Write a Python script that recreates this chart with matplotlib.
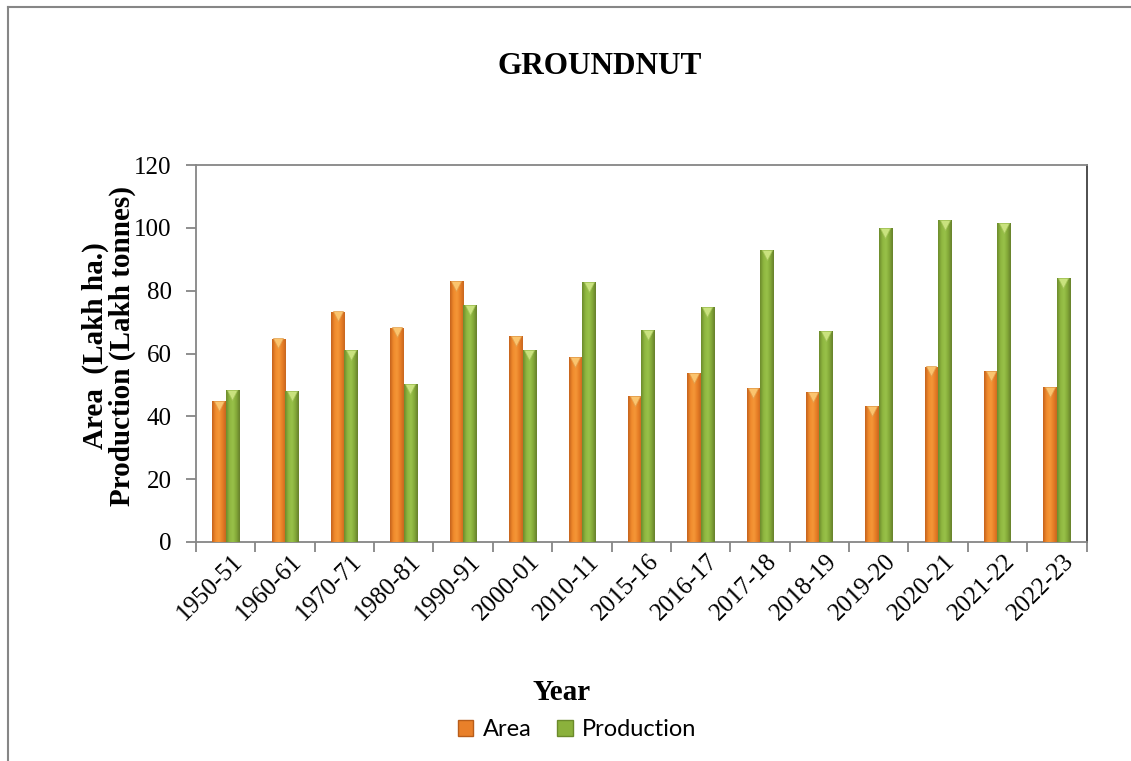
import numpy as np
import matplotlib
matplotlib.use("Agg")
import matplotlib.pyplot as plt
from matplotlib.patches import Patch
from matplotlib.lines import Line2D
from matplotlib.colors import LinearSegmentedColormap
import matplotlib.transforms as mtransforms

years = ["1950-51", "1960-61", "1970-71", "1980-81", "1990-91", "2000-01", "2010-11",
         "2015-16", "2016-17", "2017-18", "2018-19", "2019-20", "2020-21", "2021-22", "2022-23"]
area = [44.8, 64.6, 73.2, 68.1, 83.0, 65.5, 58.6, 46.2, 53.5, 48.8, 47.5, 43.0, 55.7, 54.2, 49.1]
production = [48.1, 48.0, 61.0, 50.0, 75.2, 61.0, 82.7, 67.4, 74.6, 92.7, 67.1, 99.7, 102.3, 101.3, 83.8]
yticks = [0, 20, 40, 60, 80, 100, 120]

SERIF = ["Liberation Serif", "DejaVu Serif"]
plt.rcParams["font.family"] = SERIF

W, H = 1131, 761
fig = plt.figure(figsize=(W / 100, H / 100), dpi=100)
ax = fig.add_axes([196 / W, 1 - 542 / H, (1086.5 - 196) / W, (542 - 165) / H])

x = np.arange(len(years))
bw = 0.225

orange_grad = ["#c4611c", "#f08a2c", "#f59738", "#e77e26", "#c8661f"]
green_grad = ["#6b8a2b", "#8fb640", "#99c24a", "#84a938", "#667f2c"]
cm_o = LinearSegmentedColormap.from_list("o", orange_grad)
cm_g = LinearSegmentedColormap.from_list("g", green_grad)
g = np.linspace(0, 1, 64).reshape(1, -1)

bars_a = ax.bar(x - bw / 2, area, bw, color="#e9802a", edgecolor="none", zorder=2)
bars_p = ax.bar(x + bw / 2, production, bw, color="#8bb13c", edgecolor="none", zorder=2)

for bars, cm in ((bars_a, cm_o), (bars_p, cm_g)):
    for r in bars:
        x0, w, h = r.get_x(), r.get_width(), r.get_height()
        ax.imshow(g, cmap=cm, extent=[x0, x0 + w, 0, h], aspect="auto",
                  interpolation="bicubic", zorder=3)

# triangular caps
off = mtransforms.ScaledTranslation(0, -3.2 / 72, fig.dpi_scale_trans)
ax.plot(x - bw / 2, area, linestyle="none", marker="v", markersize=7.5,
        color="#fbc46e", markeredgecolor="#e2a050", markeredgewidth=0.5,
        transform=ax.transData + off, zorder=4)
ax.plot(x + bw / 2, production, linestyle="none", marker="v", markersize=7.5,
        color="#c9e27e", markeredgecolor="#a5c45a", markeredgewidth=0.5,
        transform=ax.transData + off, zorder=4)

ax.set_xlim(-0.5, len(years) - 0.5)
ax.set_ylim(0, 120)
ax.tick_params(axis="y", length=7, width=1.3, color="#868686", pad=10.5)
ax.set_yticks(yticks)
ax.set_yticklabels([str(v) for v in yticks], fontsize=18, family=SERIF)

ax.tick_params(axis="x", which="major", length=0, pad=6)
ax.set_xticks(x)
ax.set_xticklabels(years, rotation=45, ha="right", va="top", rotation_mode="anchor",
                   fontsize=18, family=SERIF)
ax.set_xticks(np.arange(-0.5, len(years), 1.0), minor=True)
ax.tick_params(axis="x", which="minor", length=7, width=1.3, color="#868686")
for lbl in ax.get_xticklabels():
    lbl.set_transform(lbl.get_transform() + mtransforms.ScaledTranslation(6 / 100, 0, fig.dpi_scale_trans))

for s in ("left", "bottom", "top"):
    ax.spines[s].set_color("#868686")
    ax.spines[s].set_linewidth(1.3)
ax.spines["right"].set_color("#404040")
ax.spines["right"].set_linewidth(1.3)

ax.set_ylabel("Area  (Lakh ha.)\nProduction (Lakh tonnes)", fontsize=21,
              fontweight="bold", linespacing=1.0, family=SERIF)
ax.yaxis.set_label_coords((136 - 196) / 890.5, 0.52)

fig.text(600 / W, 1 - 66 / H, "GROUNDNUT", ha="center", va="center",
         fontsize=22.5, fontweight="bold")
fig.text(562 / W, 1 - 693 / H, "Year", ha="center", va="center",
         fontsize=21, fontweight="bold")

handles = [Patch(facecolor="#e9802a", edgecolor="#b85d1a", label="Area"),
           Patch(facecolor="#8bb13c", edgecolor="#6b8a2b", label="Production")]
fig.legend(handles=handles, loc="center", bbox_to_anchor=(577 / W, 1 - 730 / H), ncol=2,
           frameon=False, prop={"family": "Lato", "size": 17}, handlelength=0.65,
           handleheight=0.65, handletextpad=0.4, columnspacing=1.1)

# outer border (left and top)
fig.add_artist(Line2D([8 / W, 8 / W], [0, 1 - 7 / H], color="#868686", lw=1.5,
                      transform=fig.transFigure))
fig.add_artist(Line2D([8 / W, 1], [1 - 7 / H, 1 - 7 / H], color="#868686", lw=1.5,
                      transform=fig.transFigure))

fig.savefig("out.png", dpi=100, facecolor="white")
